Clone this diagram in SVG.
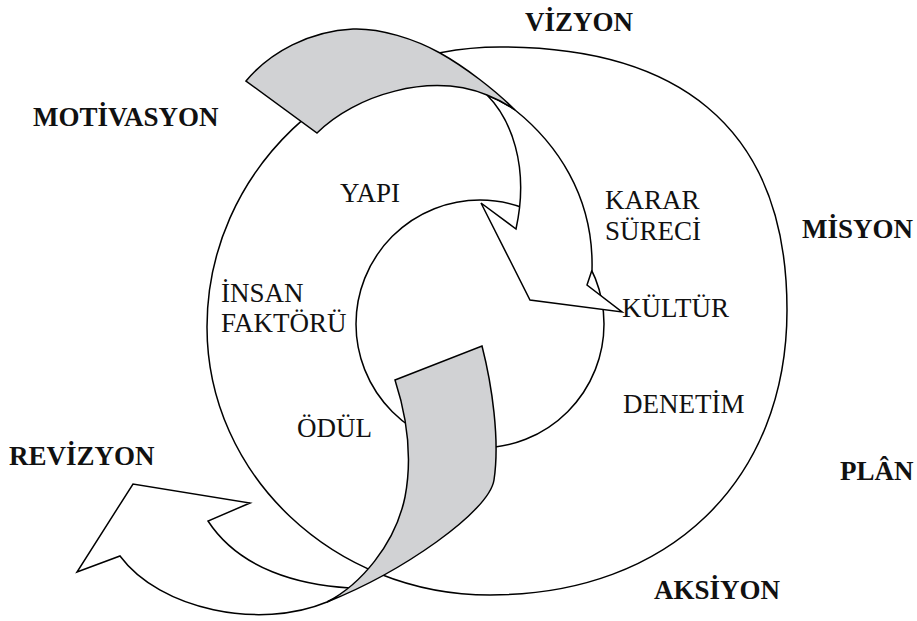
<svg xmlns="http://www.w3.org/2000/svg" width="917" height="621" viewBox="0 0 917 621">
<style>
.ln{fill:none;stroke:#000;stroke-width:1.5;stroke-linejoin:miter}
.wh{fill:#fff;stroke:#000;stroke-width:1.5;stroke-linejoin:miter}
.gr{fill:#d1d2d4;stroke:#000;stroke-width:1.5;stroke-linejoin:miter}
.b{font-family:"Liberation Serif","Times New Roman",serif;font-size:27px;font-weight:bold;fill:#111}
.r{font-family:"Liberation Serif","Times New Roman",serif;font-size:27px;fill:#111}
</style>
<rect width="917" height="621" fill="#fff"/>
<g id="outer-ring">
<path class="ln" d="M500,47 C670,47 787,120 787,310 C787,480 670,595 490,595 C334,595 207,475 207,327 C207,172 338,47 500,47 Z"/>
</g>
<g id="inner-ring">
<circle class="ln" cx="480" cy="324" r="124"/>
</g>
<g id="connectors">
<g id="top-arrow">
<path class="wh" d="M487,95 Q502,101 515,110 C555,142 594,195 592,270 L587,285 L622,312 L530,300 L481,203 L516,229 C530,165 510,118 487,95 Z"/>
<path class="gr" d="M246,81 C270,52 310,31 353,29 C380,28 415,39 440,53 C465,67 495,90 515,110 Q502,101 487,95 C430,72 355,95 317,133 Z"/>
</g>
<g id="bottom-arrow">
<path class="wh" d="M350,588 C300,585 240,570 208,521 L250,503 L133,484 L77,572 L120,556 C160,610 260,630 327,602 Q340,596 350,588 Z"/>
<path class="gr" d="M395,380 L482,346 C492,385 500,440 494,480 C489,512 402,572 327,602 C360,585 395,545 405,497 C412,460 408,420 395,380 Z"/>
</g>
</g>
<g id="label-vizyon"><text class="b" x="525" y="31">VİZYON</text></g>
<g id="label-motivasyon"><text class="b" x="33" y="126">MOTİVASYON</text></g>
<g id="label-misyon"><text class="b" x="802" y="238">MİSYON</text></g>
<g id="label-plan"><text class="b" x="840" y="480">PLÂN</text></g>
<g id="label-aksiyon"><text class="b" x="654" y="599">AKSİYON</text></g>
<g id="label-revizyon"><text class="b" x="9" y="465">REVİZYON</text></g>
<g id="label-yapi"><text class="r" x="340" y="202">YAPI</text></g>
<g id="label-karar"><text class="r" x="605" y="209">KARAR</text><text class="r" x="605" y="240">SÜRECİ</text></g>
<g id="label-kultur"><text class="r" x="622" y="317">KÜLTÜR</text></g>
<g id="label-denetim"><text class="r" x="623" y="413">DENETİM</text></g>
<g id="label-insan"><text class="r" x="221" y="302">İNSAN</text><text class="r" x="221" y="332">FAKTÖRÜ</text></g>
<g id="label-odul"><text class="r" x="297" y="437">ÖDÜL</text></g>
</svg>
